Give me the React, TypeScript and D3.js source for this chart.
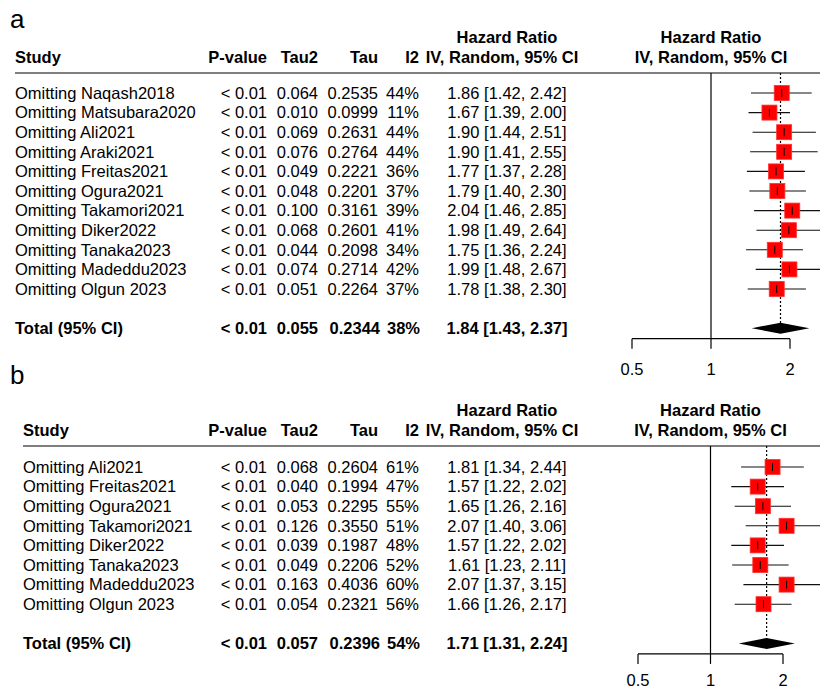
import * as d3 from 'd3';

// Panel a: leave-one-out, all studies
const studiesA = [
  'Omitting Naqash2018', 'Omitting Matsubara2020', 'Omitting Ali2021', 'Omitting Araki2021',
  'Omitting Freitas2021', 'Omitting Ogura2021', 'Omitting Takamori2021', 'Omitting Diker2022',
  'Omitting Tanaka2023', 'Omitting Madeddu2023', 'Omitting Olgun 2023'
];
const tau2A = [0.064, 0.010, 0.069, 0.076, 0.049, 0.048, 0.100, 0.068, 0.044, 0.074, 0.051];
const tauA = [0.2535, 0.0999, 0.2631, 0.2764, 0.2221, 0.2201, 0.3161, 0.2601, 0.2098, 0.2714, 0.2264];
const i2A = [44, 11, 44, 44, 36, 37, 39, 41, 34, 42, 37];
const hrA = [1.86, 1.67, 1.90, 1.90, 1.77, 1.79, 2.04, 1.98, 1.75, 1.99, 1.78];
const lowerA = [1.42, 1.39, 1.44, 1.41, 1.37, 1.40, 1.46, 1.49, 1.36, 1.48, 1.38];
const upperA = [2.42, 2.00, 2.51, 2.55, 2.28, 2.30, 2.85, 2.64, 2.24, 2.67, 2.30];
const totalA = { tau2: 0.055, tau: 0.2344, i2: 38, hr: 1.84, lower: 1.43, upper: 2.37 };

// Panel b
const studiesB = [
  'Omitting Ali2021', 'Omitting Freitas2021', 'Omitting Ogura2021', 'Omitting Takamori2021',
  'Omitting Diker2022', 'Omitting Tanaka2023', 'Omitting Madeddu2023', 'Omitting Olgun 2023'
];
const tau2B = [0.068, 0.040, 0.053, 0.126, 0.039, 0.049, 0.163, 0.054];
const tauB = [0.2604, 0.1994, 0.2295, 0.3550, 0.1987, 0.2206, 0.4036, 0.2321];
const i2B = [61, 47, 55, 51, 48, 52, 60, 56];
const hrB = [1.81, 1.57, 1.65, 2.07, 1.57, 1.61, 2.07, 1.66];
const lowerB = [1.34, 1.22, 1.26, 1.40, 1.22, 1.23, 1.37, 1.26];
const upperB = [2.44, 2.02, 2.16, 3.06, 2.02, 2.11, 3.15, 2.17];
const totalB = { tau2: 0.057, tau: 0.2396, i2: 54, hr: 1.71, lower: 1.31, upper: 2.24 };

const axisTicks = [0.5, 1, 2];
const pLabel = '< 0.01';

const FONT = "'Liberation Sans', Arial, sans-serif";
const f2 = d3.format('.2f');
const f3 = d3.format('.3f');
const f4 = d3.format('.4f');
const ci = (h: number, l: number, u: number) => `${f2(h)} [${f2(l)}, ${f2(u)}]`;

interface PanelProps {
  label: string;
  labelY: number;
  studyX: number;
  lineY: number;
  row0: number;
  range: [number, number];
  tickDy: number;
  studies: string[];
  tau2: number[];
  tau: number[];
  i2: number[];
  hr: number[];
  lower: number[];
  upper: number[];
  total: { tau2: number; tau: number; i2: number; hr: number; lower: number; upper: number };
}

const Panel = (p: PanelProps) => {
  const n = p.studies.length;
  const x = d3.scaleLog().base(2).domain([0.5, 2]).range(p.range);
  const y = d3.scaleLinear().domain([0, 1]).range([p.row0, p.row0 + 19.6]);
  const totalY = y(n + 1);
  const axisY = totalY + 10.5;
  const headY = p.lineY - 10;
  const box = 15;

  const colP = 267, colT2 = 318, colT = 378, colI2 = 419, colHR = 507;
  const hd = p.hr.map((h, i) => ({ h, l: p.lower[i], u: p.upper[i], i }));

  const t = p.total;
  const diamond = `M${x(t.lower)},${totalY} L${x(t.hr)},${totalY - 5.5} L${x(t.upper)},${totalY} L${x(t.hr)},${totalY + 5.5} Z`;

  return (
    <g>
      <text x={10} y={p.labelY} fontSize={26}>{p.label}</text>

      {/* header */}
      <g fontWeight="bold" fontSize={16.5}>
        <text x={p.studyX} y={headY}>Study</text>
        <text x={colP} y={headY} textAnchor="end">P-value</text>
        <text x={colT2} y={headY} textAnchor="end">Tau2</text>
        <text x={colT} y={headY} textAnchor="end">Tau</text>
        <text x={colI2} y={headY} textAnchor="end">I2</text>
        <text x={colHR} y={headY - 20} textAnchor="middle">Hazard Ratio</text>
        <text x={502} y={headY} textAnchor="middle">IV, Random, 95% CI</text>
        <text x={x(1)} y={headY - 20} textAnchor="middle">Hazard Ratio</text>
        <text x={x(1)} y={headY} textAnchor="middle">IV, Random, 95% CI</text>
      </g>
      <line x1={p.studyX} x2={820} y1={p.lineY} y2={p.lineY} stroke="#555" strokeWidth={1.5} />

      {/* study rows */}
      <g fontSize={16.5}>
        {p.studies.map((s, i) => (
          <g key={s}>
            <text x={p.studyX} y={y(i)} dy="0.35em">{s}</text>
            <text x={colP} y={y(i)} dy="0.35em" textAnchor="end">{pLabel}</text>
            <text x={colT2} y={y(i)} dy="0.35em" textAnchor="end">{f3(p.tau2[i])}</text>
            <text x={colT} y={y(i)} dy="0.35em" textAnchor="end">{f4(p.tau[i])}</text>
            <text x={colI2} y={y(i)} dy="0.35em" textAnchor="end">{p.i2[i]}%</text>
            <text x={colHR} y={y(i)} dy="0.35em" textAnchor="middle">{ci(p.hr[i], p.lower[i], p.upper[i])}</text>
          </g>
        ))}
      </g>

      {/* total row */}
      <g fontSize={16.5} fontWeight="bold">
        <text x={p.studyX} y={totalY} dy="0.35em">Total (95% CI)</text>
        <text x={colP} y={totalY} dy="0.35em" textAnchor="end">{pLabel}</text>
        <text x={colT2} y={totalY} dy="0.35em" textAnchor="end">{f3(t.tau2)}</text>
        <text x={colT + 2} y={totalY} dy="0.35em" textAnchor="end">{f4(t.tau)}</text>
        <text x={colI2 + 1} y={totalY} dy="0.35em" textAnchor="end">{t.i2}%</text>
        <text x={colHR} y={totalY} dy="0.35em" textAnchor="middle">{ci(t.hr, t.lower, t.upper)}</text>
      </g>

      {/* reference lines */}
      <line x1={x(1)} x2={x(1)} y1={p.lineY} y2={axisY} stroke="#000" strokeWidth={1.2} />
      <line x1={x(t.hr)} x2={x(t.hr)} y1={p.lineY} y2={totalY + 5} stroke="#000" strokeWidth={1.2} strokeDasharray="2,2" />

      {/* CIs and squares */}
      {hd.map(d => (
        <g key={d.i}>
          <line x1={x(d.l)} x2={x(d.u)} y1={y(d.i)} y2={y(d.i)} stroke="#111" strokeWidth={1.1} />
          <rect x={x(d.h) - box / 2} y={y(d.i) - box / 2} width={box} height={box} fill="#ff0000" stroke="#ff3030" strokeWidth={0.8} />
          <line x1={x(d.h)} x2={x(d.h)} y1={y(d.i) - 4} y2={y(d.i) + 4} stroke="#000" strokeWidth={1} />
        </g>
      ))}

      <path d={diamond} fill="#000" />

      {/* x axis */}
      <line x1={x(0.5)} x2={x(2)} y1={axisY} y2={axisY} stroke="#000" strokeWidth={1.2} />
      {axisTicks.map(v => (
        <g key={v}>
          <line x1={x(v)} x2={x(v)} y1={axisY} y2={axisY + 10} stroke="#000" strokeWidth={1.2} />
          <text x={x(v)} y={axisY + p.tickDy} textAnchor="middle" fontSize={16.5}>{v}</text>
        </g>
      ))}
    </g>
  );
};

export default function App() {
  return (
    <svg
      width={820}
      height={691}
      style={{ position: 'absolute', left: 0, top: 0, background: '#fff' }}
      fontFamily={FONT}
      fill="#000"
    >
      <rect width={820} height={691} fill="#fff" />
      <Panel
        label="a" labelY={28} studyX={15} lineY={73} row0={93} range={[632, 790]} tickDy={36}
        studies={studiesA} tau2={tau2A} tau={tauA} i2={i2A}
        hr={hrA} lower={lowerA} upper={upperA} total={totalA}
      />
      <Panel
        label="b" labelY={384} studyX={23} lineY={446} row0={467} range={[638, 783]} tickDy={32}
        studies={studiesB} tau2={tau2B} tau={tauB} i2={i2B}
        hr={hrB} lower={lowerB} upper={upperB} total={totalB}
      />
    </svg>
  );
}
